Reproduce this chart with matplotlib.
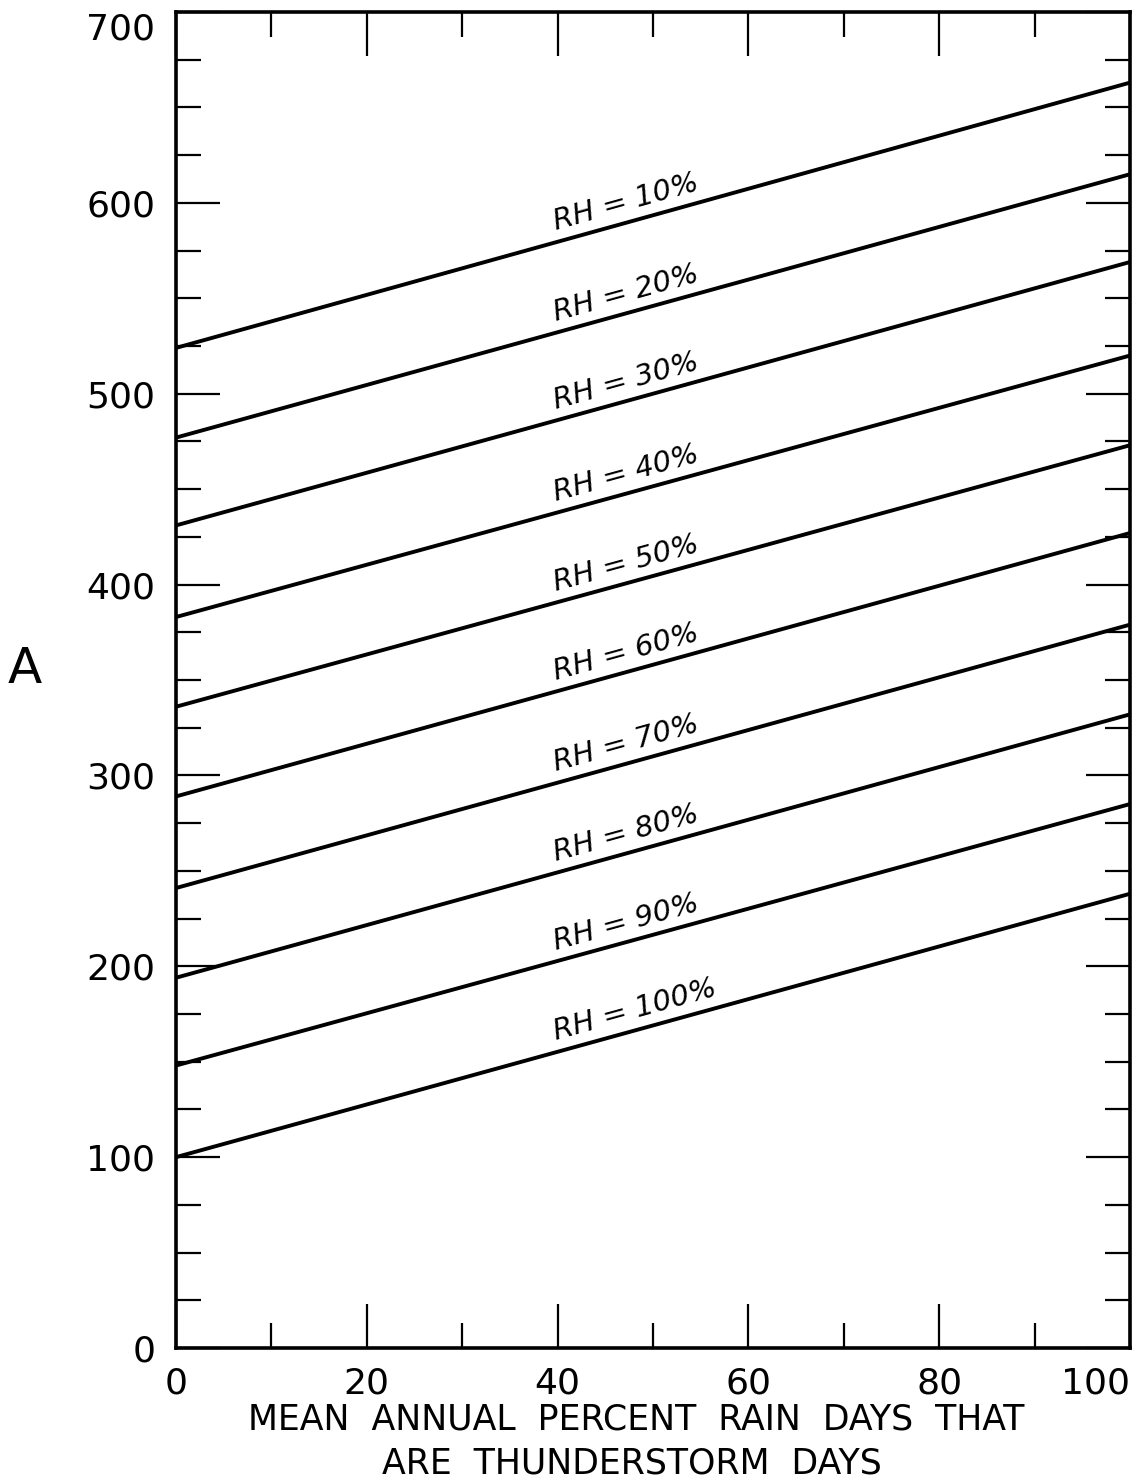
import numpy as np
import matplotlib
matplotlib.use("Agg")
from matplotlib import pyplot as plt
from matplotlib.ticker import MultipleLocator

# lines: value of A at x=0 and at x=100
rh = [10, 20, 30, 40, 50, 60, 70, 80, 90, 100]
a_at_0 = [524, 477, 431, 383, 336, 289, 241, 194, 148, 100]
a_at_100 = [663, 615, 569, 520, 473, 427, 379, 332, 285, 238]
x_ends = [0, 100]
label_x = 40

xticks = [0, 20, 40, 60, 80, 100]
yticks = [0, 100, 200, 300, 400, 500, 600, 700]

fig = plt.figure(figsize=(11.42, 14.83), dpi=100)
ax = fig.add_axes([176/1142, 1-1348/1483, (1130-176)/1142, (1348-12)/1483])

for r, a0, a1 in zip(rh, a_at_0, a_at_100):
    ax.plot(x_ends, [a0, a1], color="black", lw=2.8, solid_capstyle="butt")

ax.set_xlim(0, 100)
ax.set_ylim(0, 700)

# angle of the lines on screen, for the labels
fig.canvas.draw()
for r, a0, a1 in zip(rh, a_at_0, a_at_100):
    p0 = ax.transData.transform((x_ends[0], a0))
    p1 = ax.transData.transform((x_ends[1], a1))
    ang = np.degrees(np.arctan2(p1[1]-p0[1], p1[0]-p0[0]))
    yl = a0 + (a1-a0)*label_x/100
    ax.annotate("RH = %d%%" % r, (label_x, yl), xytext=(0, 4),
                textcoords="offset points", rotation=ang,
                rotation_mode="anchor", ha="left", va="bottom",
                fontsize=21, style="italic")

ax.set_xticks(xticks)
ax.set_yticks(yticks)
ax.xaxis.set_minor_locator(MultipleLocator(10))
ax.yaxis.set_minor_locator(MultipleLocator(25))
ax.tick_params(which="both", direction="in", top=True, right=True,
               width=1.6, color="black")
ax.tick_params(which="major", length=32)
ax.tick_params(which="minor", length=18)
ax.tick_params(axis="y", which="major", pad=15, labelsize=26)
ax.tick_params(axis="x", which="major", pad=13, labelsize=26)

# keep the end labels inside the figure, as on the original
ax.get_xticklabels()[-1].set_ha("right")
ax.get_yticklabels()[-1].set_va("top")

for s in ax.spines.values():
    s.set_linewidth(2.6)

fig.text(25/1142, 1-669/1483, "A", fontsize=36, ha="center", va="center")
fig.text(636/1142, 1-1420/1483, "MEAN  ANNUAL  PERCENT  RAIN  DAYS  THAT",
         fontsize=25, ha="center", va="center")
fig.text(632/1142, 1-1463/1483, "ARE  THUNDERSTORM  DAYS",
         fontsize=25, ha="center", va="center")

fig.savefig("out.png", dpi=100, facecolor="white")
